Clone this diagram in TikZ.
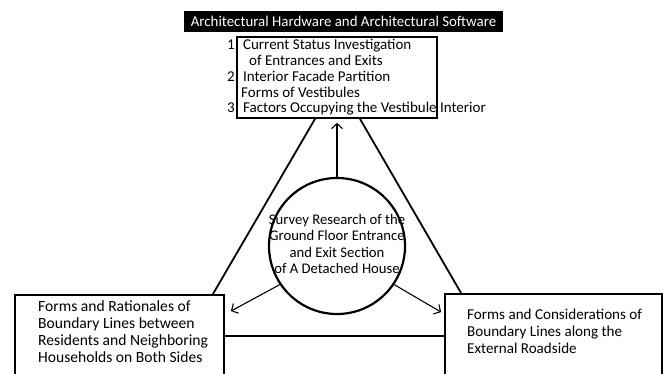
\documentclass[tikz,border=0pt]{standalone}
\usepackage{fontspec}
\setmainfont{Carlito}
\usetikzlibrary{arrows.meta, positioning, calc}

\begin{document}
\begin{tikzpicture}[
  x=1pt, y=-1pt,
  txt/.style={inner sep=0pt, font=\fontsize{15}{15.8}\selectfont},
  panel/.style={rectangle, draw, line width=1.8pt, inner sep=0pt},
  link/.style={line width=1.8pt},
  arr/.style={-{Straight Barb[length=5pt, width=11pt]}, line width=1.1pt},
]
\useasboundingbox (0,0) rectangle (666,374);
\clip (0,0) rectangle (666,374);

\node[fill=black, text=white, minimum width=319pt, minimum height=21pt, inner sep=0pt,
  font=\fontsize{14.9}{15}\selectfont] (title) at (343.5,21.5) {Architectural Hardware and Architectural Software};

\node[panel, minimum width=200pt, minimum height=81pt] (soft) at (337,77.5) {};
\node[txt, align=left, anchor=base west] (softtext) at (227,113)
  {1. Current Status Investigation\\
   \hspace*{22pt}of Entrances and Exits\\
   2. Interior Facade Partition\\
   \hspace*{14pt}Forms of Vestibules\\
   3. Factors Occupying the Vestibule Interior};

\node[circle, draw, line width=2.2pt, minimum size=136pt, inner sep=0pt] (hub) at (337,246) {};
\node[txt, align=center, font=\fontsize{14.7}{16.3}\selectfont] (hubtext) at (337,244)
  {Survey Research of the\\Ground Floor Entrance\\and Exit Section\\of A Detached House};

\node[panel, minimum width=209pt, minimum height=82pt] (nbr) at (119.5,336) {};
\node[txt, align=left, anchor=base west, font=\fontsize{15.6}{16.7}\selectfont] (nbrtext) at (38,362)
  {Forms and Rationales of\\Boundary Lines between\\Residents and Neighboring\\Households on Both Sides};

\node[panel, minimum width=217pt, minimum height=82pt] (road) at (553.5,335) {};
\node[txt, align=left, anchor=base west, font=\fontsize{15.1}{16.6}\selectfont] (roadtext) at (467,353)
  {Forms and Considerations of\\Boundary Lines along the\\External Roadside};

\draw[link] ($(soft.south)+(-22,0)$) -- ($(nbr.north east)+(-12,0)$);
\draw[link] ($(soft.south)+(23,0)$) -- ($(road.north west)+(17,0)$);
\draw[link] (nbr.east) -- (nbr.east -| road.west);

\draw[arr] (hub.north) -- ($(soft.south)+(0,4)$);
\draw[arr] (hub.214) -- ($(nbr.north east)+(6,17)$);
\draw[arr] (hub.326) -- ($(road.north west)+(-3,19)$);
\end{tikzpicture}
\end{document}
